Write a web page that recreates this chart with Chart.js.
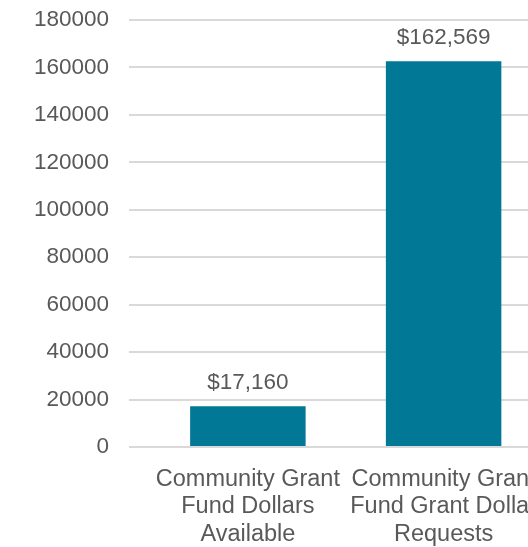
<!DOCTYPE html>
<html>
<head>
<meta charset="utf-8">
<script src="https://cdn.jsdelivr.net/npm/chart.js@4"></script>
<style>
  html, body { margin: 0; padding: 0; background: #fff; overflow: hidden; }
  canvas { display: block; }
</style>
</head>
<body>
<canvas id="grantChart" width="560" height="547"></canvas>
<script>
const categories = [
  ['Community Grant', 'Fund Dollars', 'Available'],
  ['Community Grant', 'Fund Grant Dollar', 'Requests']
];
const dollars = [17160, 162569];
const yTicks = [0, 20000, 40000, 60000, 80000, 100000, 120000, 140000, 160000, 180000];

const textColor = '#595959';
const fontFamily = '"Liberation Sans", Arial, Helvetica, sans-serif';

// draws "$17,160" etc above each bar
const barValueLabels = {
  id: 'barValueLabels',
  afterDatasetsDraw(chart) {
    const ctx = chart.ctx;
    const meta = chart.getDatasetMeta(0);
    ctx.save();
    ctx.font = '22.5px ' + fontFamily;
    ctx.fillStyle = textColor;
    ctx.textAlign = 'center';
    ctx.textBaseline = 'alphabetic';
    meta.data.forEach((bar, i) => {
      ctx.fillText('$' + dollars[i].toLocaleString('en-US'), bar.x, bar.y - 17);
    });
    ctx.restore();
  }
};

new Chart(document.getElementById('grantChart').getContext('2d'), {
  type: 'bar',
  data: {
    labels: categories,
    datasets: [{
      data: dollars,
      backgroundColor: '#017895',
      categoryPercentage: 1,
      barPercentage: 0.59
    }]
  },
  options: {
    responsive: false,
    animation: false,
    layout: { padding: { top: 20, right: 16, left: 0, bottom: 0 } },
    plugins: {
      legend: { display: false },
      tooltip: { enabled: false }
    },
    scales: {
      x: {
        grid: { display: false, drawTicks: false },
        border: { display: false },
        ticks: {
          color: textColor,
          font: { family: fontFamily, size: 23.5, lineHeight: 1.16 },
          padding: 19,
          maxRotation: 0,
          autoSkip: false
        },
        afterFit: s => { s.height = 100; }
      },
      y: {
        min: 0,
        max: 180000,
        afterBuildTicks: s => { s.ticks = yTicks.map(v => ({ value: v })); },
        grid: { color: '#d9d9d9', lineWidth: 2, tickLength: 21, drawTicks: true },
        border: { display: false },
        ticks: {
          color: textColor,
          font: { family: fontFamily, size: 22.5 },
          padding: 20,
          callback: v => String(v)
        },
        afterFit: s => {
          s.width = 150;
          s.paddingTop = 0;
          s.paddingBottom = 0;
        }
      }
    }
  },
  plugins: [barValueLabels]
});
</script>
</body>
</html>
